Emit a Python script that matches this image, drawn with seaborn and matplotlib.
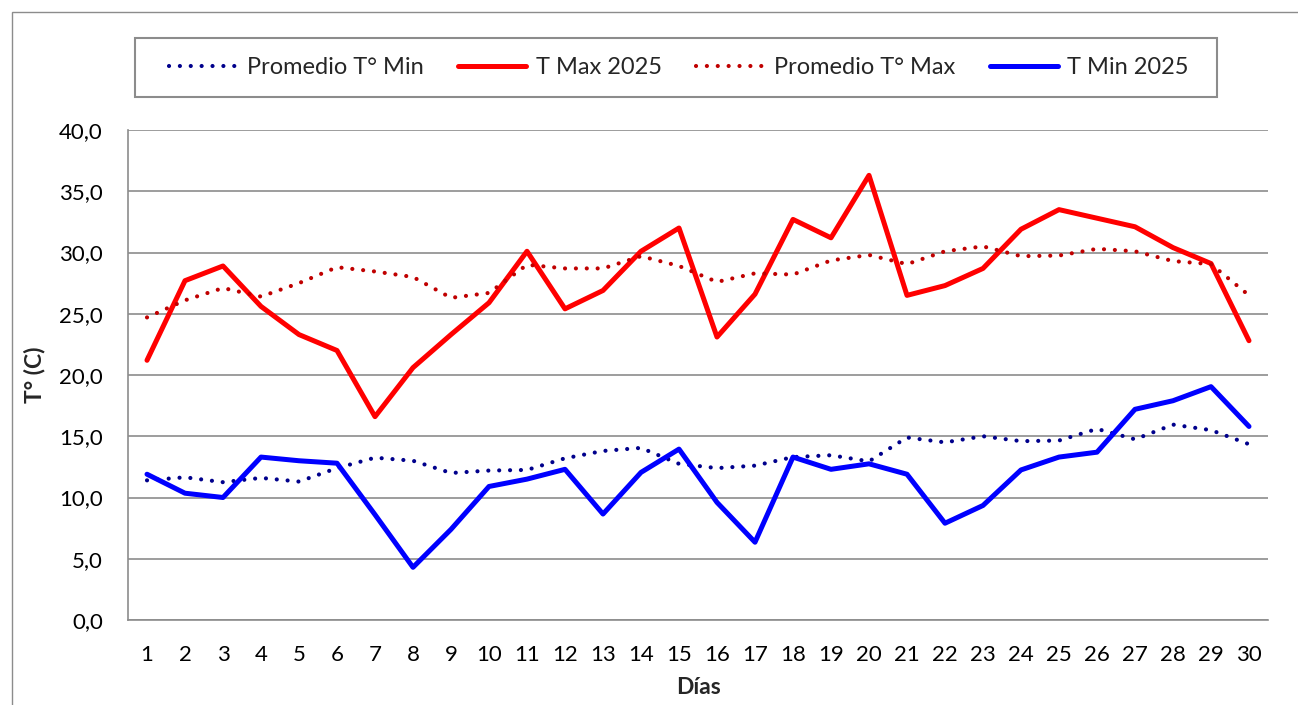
"""Daily max/min temperatures vs. historical averages."""

import matplotlib
matplotlib.use("Agg")
import matplotlib.pyplot as plt
import matplotlib.ticker as mticker
from matplotlib.patches import Rectangle
import seaborn as sns

dias = list(range(1, 31))

t_max_2025 = [21.2, 27.7, 28.9, 25.6, 23.3, 22.0, 16.6, 20.6, 23.3, 25.9,
              30.1, 25.4, 26.9, 30.1, 32.0, 23.1, 26.6, 32.7, 31.2, 36.3,
              26.5, 27.3, 28.7, 31.9, 33.5, 32.8, 32.1, 30.4, 29.1, 22.8]
prom_t_max = [24.7, 26.1, 27.1, 26.4, 27.5, 28.8, 28.45, 28.0, 26.3, 26.7,
              29.0, 28.7, 28.7, 29.7, 28.9, 27.6, 28.3, 28.2, 29.35, 29.8,
              29.05, 30.1, 30.5, 29.7, 29.75, 30.3, 30.1, 29.3, 29.05, 26.5]
t_min_2025 = [11.9, 10.35, 10.0, 13.3, 13.0, 12.8, 8.6, 4.3, 7.4, 10.9,
              11.5, 12.3, 8.65, 12.05, 13.95, 9.6, 6.35, 13.3, 12.3, 12.75,
              11.9, 7.9, 9.35, 12.25, 13.3, 13.7, 17.2, 17.9, 19.05, 15.8]
prom_t_min = [11.4, 11.65, 11.25, 11.6, 11.3, 12.4, 13.25, 13.0, 12.0, 12.2,
              12.25, 13.2, 13.8, 14.05, 12.75, 12.4, 12.6, 13.3, 13.45, 12.95,
              14.9, 14.5, 15.0, 14.6, 14.65, 15.6, 14.75, 15.95, 15.5, 14.35]

sns.set_style("white")
plt.rcParams["font.family"] = ["Lato", "DejaVu Sans"]

W, H = 1298, 705
fig = plt.figure(figsize=(W / 100, H / 100), dpi=100)
ax = fig.add_axes([128 / W, (H - 620) / H, (1268 - 128) / W, (620 - 130) / H])

grey = "#8c8c8c"
dot = (0, (0.01, 2.6))

sns.lineplot(x=dias, y=prom_t_min, ax=ax, color="#00008c", linewidth=3.0,
             linestyle=dot, dash_capstyle="round", label="Promedio T° Min")
sns.lineplot(x=dias, y=t_max_2025, ax=ax, color="#ff0000", linewidth=3.6,
             label="T Max 2025")
sns.lineplot(x=dias, y=prom_t_max, ax=ax, color="#c00000", linewidth=3.0,
             linestyle=dot, dash_capstyle="round", label="Promedio T° Max")
sns.lineplot(x=dias, y=t_min_2025, ax=ax, color="#0000ff", linewidth=3.6,
             label="T Min 2025")

ax.set_xlim(0.5, 30.5)
ax.set_ylim(0, 40)
ax.set_xticks(dias)
ax.set_yticks(range(0, 41, 5))
ax.yaxis.set_major_formatter(mticker.FuncFormatter(lambda v, p: f"{v:.1f}".replace(".", ",")))
ax.tick_params(axis="both", length=0, labelsize=16, colors="black")
ax.tick_params(axis="x", pad=18)
ax.tick_params(axis="y", pad=18)
ax.grid(axis="y", color=grey, linewidth=1.2)
ax.set_axisbelow(True)
for side in ["top", "right"]:
    ax.spines[side].set_visible(False)
for side in ["left", "bottom"]:
    ax.spines[side].set_color(grey)
    ax.spines[side].set_linewidth(1.2)

ax.set_xlabel("Días", fontsize=16.5, fontweight="bold", labelpad=9)
ax.set_ylabel("T° (C)", fontsize=16.5, fontweight="bold", labelpad=10)

ax.get_legend().remove()
handles, labels = ax.get_legend_handles_labels()
fig.legend(handles, labels, ncol=4, loc="center",
           bbox_to_anchor=(679 / W, 1 - 67.5 / H),
           fontsize=17, frameon=False, handlelength=2.9, handletextpad=0.4,
           borderpad=0.75, borderaxespad=0, columnspacing=1.45)

# legend box
fig.patches.append(Rectangle((135 / W, 1 - 97 / H), 1082 / W, 59 / H,
                             transform=fig.transFigure, fill=False,
                             edgecolor=grey, linewidth=1.5))

# outer chart border
fig.patches.append(Rectangle((12 / W, -0.1), 1.2, 1 - 12 / H + 0.1,
                             transform=fig.transFigure, fill=False,
                             edgecolor=grey, linewidth=1.0))

fig.savefig("out.png", dpi=100)
